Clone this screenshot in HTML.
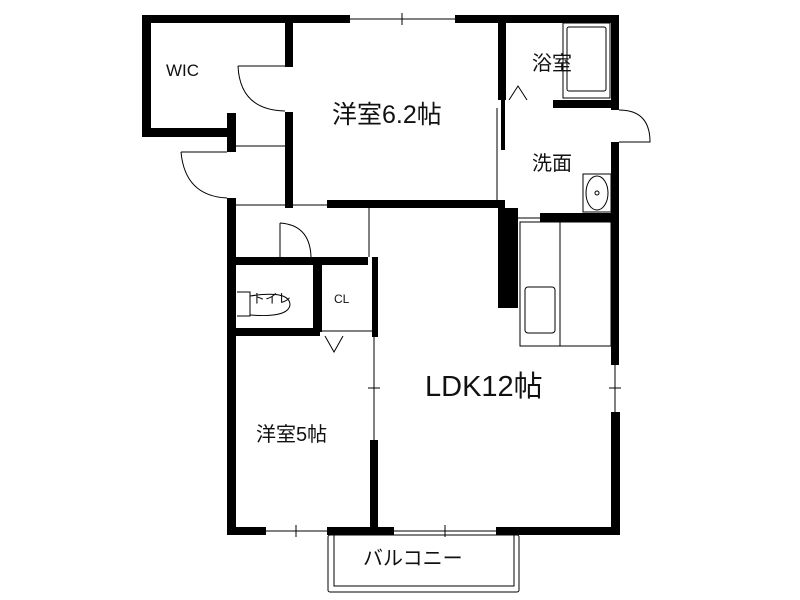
<!DOCTYPE html>
<html><head><meta charset="utf-8"><style>
html,body{margin:0;padding:0;background:#fff;}
svg{display:block}
text{font-family:"Liberation Sans","Noto Sans CJK JP",sans-serif;fill:#111}
</style></head><body>
<svg width="800" height="600" viewBox="0 0 800 600" xmlns="http://www.w3.org/2000/svg">
<rect width="800" height="600" fill="#fff"/>
<g fill="#000">
<!-- top wall -->
<rect x="142" y="15" width="208" height="8"/>
<rect x="455" y="15" width="164" height="8"/>
<!-- WIC -->
<rect x="142" y="15" width="9" height="122"/>
<rect x="142" y="128" width="94" height="9"/>
<rect x="285" y="15" width="8" height="52"/>
<rect x="285" y="112" width="8" height="96"/>
<!-- entry left wall -->
<rect x="227" y="113" width="9" height="39"/>
<rect x="227" y="198" width="9" height="337"/>
<!-- right wall -->
<rect x="611" y="15" width="8" height="95"/>
<rect x="611" y="142" width="8" height="223"/>
<rect x="611" y="412" width="9" height="123"/>
<!-- bath divider -->
<rect x="498" y="15" width="8" height="85"/>
<rect x="501" y="100" width="4" height="50"/>
<rect x="553" y="100" width="66" height="8"/>
<!-- 6.2 bottom -->
<rect x="327" y="200" width="178" height="8"/>
<rect x="498" y="208" width="20" height="100"/>
<rect x="540" y="213" width="79" height="9"/>
<!-- toilet / CL -->
<rect x="236" y="257" width="132" height="8"/>
<rect x="313" y="257" width="9" height="75"/>
<rect x="227" y="328" width="93" height="8"/>
<rect x="372" y="257" width="6" height="80"/>
<!-- 5 / LDK divider -->
<rect x="370" y="440" width="8" height="87"/>
<!-- bottom wall -->
<rect x="227" y="527" width="39" height="8"/>
<rect x="327" y="527" width="67" height="8"/>
<rect x="496" y="527" width="124" height="8"/>
</g>
<g fill="none" stroke="#000" stroke-width="1">
<!-- windows -->
<line x1="350" y1="19" x2="455" y2="19"/><line x1="402" y1="13" x2="402" y2="25"/>
<line x1="266" y1="531" x2="327" y2="531"/><line x1="296" y1="525" x2="296" y2="537"/>
<line x1="394" y1="531" x2="496" y2="531"/><line x1="445" y1="525" x2="445" y2="537"/>
<line x1="615" y1="365" x2="615" y2="412"/><line x1="609" y1="388" x2="621" y2="388"/>
<line x1="374" y1="337" x2="374" y2="440"/><line x1="368" y1="388" x2="380" y2="388"/>
<!-- doors -->
<path d="M238 66 L285 66 M238 66 Q240 110 285 111"/>
<path d="M181 152 L227 152 M181 152 Q185 196 227 198"/>
<path d="M280 223 L280 257 M280 223 Q310 225 311 257"/>
<path d="M619 110 Q650 110 650 142 L619 142"/>
<line x1="369" y1="208" x2="369" y2="257"/>
<line x1="236" y1="205" x2="369" y2="205"/>
<line x1="236" y1="146" x2="285" y2="146"/>
<!-- CL bottom / fold -->
<line x1="322" y1="331" x2="372" y2="331"/>
<path d="M325 336 L334 352 L343 336"/>
<path d="M509 100 L518 86 L527 100"/>
<line x1="506" y1="218" x2="540" y2="218"/>
<line x1="497" y1="108" x2="497" y2="200"/>
<!-- bath tub -->
<rect x="563" y="23" width="47" height="75"/>
<rect x="567" y="27" width="39" height="64" rx="2"/>
<!-- washbasin -->
<rect x="583" y="174" width="28" height="38"/>
<ellipse cx="597" cy="193" rx="11" ry="17"/>
<circle cx="597" cy="193" r="2"/>
<!-- kitchen -->
<rect x="520" y="222" width="91" height="124"/>
<line x1="560" y1="222" x2="560" y2="346"/>
<rect x="525" y="287" width="30" height="46" rx="3"/>
<!-- toilet bowl -->
<path d="M237 292 L250 292 L250 316 L237 316"/>
<path d="M250 296 Q290 290 290 305 Q288 318 250 315"/>
<!-- balcony -->
<rect x="328" y="535" width="191" height="57" rx="2"/>
<rect x="334" y="535" width="180" height="51"/>
</g>
<text x="166" y="76" font-size="17">WIC</text>
<text x="332" y="123" font-size="25">洋室6.2帖</text>
<text x="532" y="70" font-size="20">浴室</text>
<text x="532" y="170" font-size="20">洗面</text>
<text x="252" y="303" font-size="13">トイレ</text>
<text x="334" y="303" font-size="12">CL</text>
<text x="425" y="396" font-size="29">LDK12帖</text>
<text x="256" y="441" font-size="20">洋室5帖</text>
<text x="363" y="565" font-size="20">バルコニー</text>
</svg>
</body></html>
